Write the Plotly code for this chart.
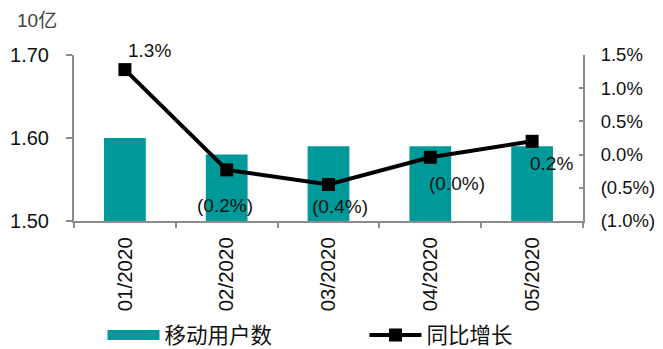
import plotly.graph_objects as go

categories = ["01/2020", "02/2020", "03/2020", "04/2020", "05/2020"]
users = [1.60, 1.58, 1.59, 1.59, 1.59]          # 10亿
yoy = [1.28, -0.23, -0.45, -0.04, 0.20]          # %
yoy_labels = ["1.3%", "(0.2%)", "(0.4%)", "(0.0%)", "0.2%"]
left_ticks = [1.50, 1.60, 1.70]
left_ticktext = ["1.50", "1.60", "1.70"]
right_ticks = [-1.0, -0.5, 0.0, 0.5, 1.0, 1.5]
right_ticktext = ["(1.0%)", "(0.5%)", "0.0%", "0.5%", "1.0%", "1.5%"]

# label offsets (style)
label_dx = [25, -2, 11, 27, 19]
label_dy = [19, -36, -22, -26, -22]

FONT = "Liberation Sans, Arial, Noto Sans CJK SC, sans-serif"
TEAL = "#009999"
AXIS = "#8c8c8c"

fig = go.Figure()
fig.add_trace(go.Bar(x=categories, y=users, marker=dict(color=TEAL, line=dict(width=0)),
                     width=0.41, name="移动用户数", showlegend=False))
# legend stand-in for bar (wide teal swatch)
fig.add_trace(go.Scatter(x=[None], y=[None], mode="lines", line=dict(color=TEAL, width=14),
                         name="移动用户数", legendwidth=195))
fig.add_trace(go.Scatter(x=categories, y=yoy, yaxis="y2", mode="lines+markers",
                         line=dict(color="black", width=4),
                         marker=dict(symbol="square", size=13, color="black"),
                         name="同比增长", legendwidth=100))

for c, v, t, dx, dy in zip(categories, yoy, yoy_labels, label_dx, label_dy):
    fig.add_annotation(x=c, y=v, yref="y2", text=t, showarrow=False,
                       xshift=dx, yshift=dy, font=dict(size=19, color="#111", family=FONT))

fig.add_annotation(xref="paper", yref="paper", x=-0.116, y=1.21, xanchor="left", yanchor="middle",
                   text="10亿", showarrow=False, font=dict(size=19, color="#404040", family=FONT))

fig.update_layout(
    width=655, height=341,
    margin=dict(l=66, r=80, t=47, b=128, autoexpand=False),
    paper_bgcolor="white", plot_bgcolor="white",
    font=dict(family=FONT, size=18, color="#111"),
    bargap=0.59,
    xaxis=dict(type="category", showline=True, linecolor=AXIS, linewidth=2, automargin=False,
               ticks="outside", tickson="boundaries", ticklen=5, tickcolor=AXIS, tickwidth=2,
               tickangle=-90, tickfont=dict(size=20.5), showgrid=False, ticklabelstandoff=6),
    yaxis=dict(range=[1.5, 1.7], tickvals=left_ticks, ticktext=left_ticktext, automargin=False,
               showline=True, linecolor=AXIS, linewidth=2, ticks="outside", ticklen=6,
               tickcolor=AXIS, tickwidth=2, showgrid=False, zeroline=False,
               tickfont=dict(size=20), ticklabelstandoff=13),
    yaxis2=dict(range=[-1.0, 1.5], tickvals=right_ticks, ticktext=right_ticktext, automargin=False,
                overlaying="y", side="right", showline=True, linecolor=AXIS, linewidth=2,
                ticks="inside", ticklen=4, tickcolor=AXIS, tickwidth=2, showgrid=False,
                zeroline=False, tickfont=dict(size=18.5), ticklabelstandoff=12),
    legend=dict(orientation="h", x=0.056, xanchor="left", y=-0.687, yanchor="middle",
                itemwidth=52, font=dict(size=21.5), bgcolor="rgba(0,0,0,0)"),
)

fig.write_html("out.html")
